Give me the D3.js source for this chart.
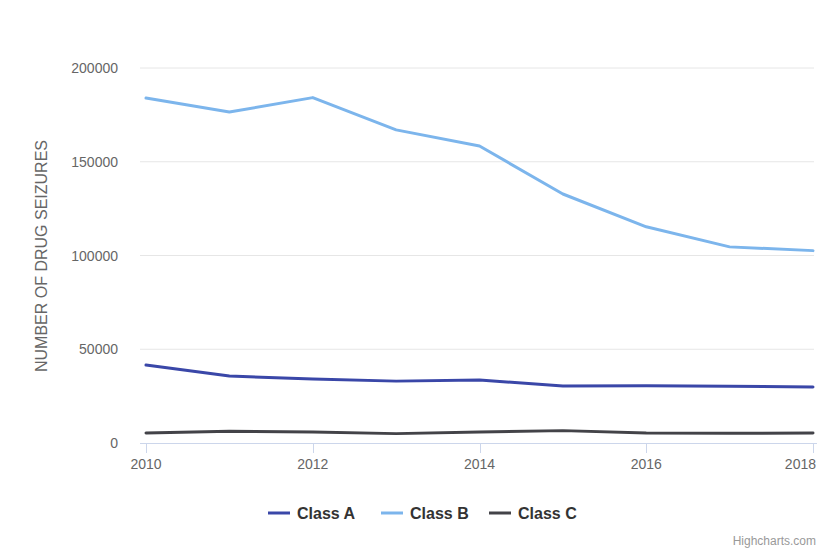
<!DOCTYPE html>
<html lang="en">
<head>
  <meta charset="UTF-8" />
  <title>Drug seizures by class</title>
  <style>
    body { margin: 0; background: #fff; font-family: "Liberation Sans", Arial, sans-serif; }
    svg { display: block; }
  </style>
  <script src="https://d3js.org/d3.v7.min.js"></script>
</head>
<body>
  <svg id="chart" width="818" height="549"></svg>
  <script>
    // ---------- data ----------
    const years = [2010, 2011, 2012, 2013, 2014, 2015, 2016, 2017, 2018];
    const classA = [41600, 35700, 34100, 33000, 33600, 30400, 30500, 30300, 29900];
    const classB = [184000, 176500, 184200, 167000, 158400, 132800, 115300, 104600, 102600];
    const classC = [5300, 6300, 5900, 5000, 5900, 6600, 5300, 5200, 5300];
    const yTicks = [0, 50000, 100000, 150000, 200000];
    const xTicks = [2010, 2012, 2014, 2016, 2018];

    const series = [
      { name: "Class A", values: classA, color: "#3a47a8" },
      { name: "Class B", values: classB, color: "#7cb5ec" },
      { name: "Class C", values: classC, color: "#434348" }
    ];

    const svg = d3.select("#chart");
    const margin = { top: 68, left: 140, right: 4, bottom: 106 };
    const width = 818, height = 549;

    const x = d3.scaleLinear().domain([2010, 2018]).range([146, 813]);
    const y = d3.scaleLinear().domain([0, 200000]).range([443, 68]);

    // grid lines
    svg.append("g")
      .selectAll("line")
      .data(yTicks.filter(d => d > 0))
      .enter().append("line")
      .attr("x1", margin.left).attr("x2", width - margin.right)
      .attr("y1", d => y(d)).attr("y2", d => y(d))
      .attr("stroke", "#e6e6e6").attr("stroke-width", 1);

    // y labels
    svg.append("g")
      .selectAll("text")
      .data(yTicks)
      .enter().append("text")
      .attr("x", 118).attr("y", d => y(d) + 5)
      .attr("text-anchor", "end")
      .attr("fill", "#666").attr("font-size", 14)
      .text(d => d);

    // y axis title
    svg.append("text")
      .attr("transform", "translate(47,256) rotate(-90)")
      .attr("text-anchor", "middle")
      .attr("fill", "#666").attr("font-size", 16)
      .text("NUMBER OF DRUG SEIZURES");

    // x axis
    const xAxis = svg.append("g");
    xAxis.append("line")
      .attr("x1", margin.left).attr("x2", width - 1)
      .attr("y1", 443.5).attr("y2", 443.5)
      .attr("stroke", "#ccd6eb");
    xAxis.selectAll("line.tick")
      .data(xTicks)
      .enter().append("line")
      .attr("class", "tick")
      .attr("x1", d => Math.round(x(d)) + 0.5).attr("x2", d => Math.round(x(d)) + 0.5)
      .attr("y1", 443).attr("y2", 453)
      .attr("stroke", "#ccd6eb");
    // last label is pulled inside the edge, like Highcharts does
    xAxis.selectAll("text")
      .data(xTicks)
      .enter().append("text")
      .attr("x", (d, i) => i === xTicks.length - 1 ? width - 2 : x(d))
      .attr("y", 469)
      .attr("text-anchor", (d, i) => i === xTicks.length - 1 ? "end" : "middle")
      .attr("fill", "#666").attr("font-size", 14)
      .text(d => d);

    // lines
    const line = d3.line()
      .x((d, i) => x(years[i]))
      .y(d => y(d));

    svg.append("g")
      .selectAll("path")
      .data(series)
      .enter().append("path")
      .attr("d", d => line(d.values))
      .attr("fill", "none")
      .attr("stroke", d => d.color)
      .attr("stroke-width", 3)
      .attr("stroke-linejoin", "round")
      .attr("stroke-linecap", "round");

    // legend
    const legendX = [268, 381, 489];
    const legend = svg.append("g")
      .selectAll("g")
      .data(series)
      .enter().append("g")
      .attr("transform", (d, i) => `translate(${legendX[i]},513)`);
    legend.append("line")
      .attr("x1", 0).attr("x2", 22)
      .attr("stroke", d => d.color).attr("stroke-width", 3);
    legend.append("text")
      .attr("x", 29).attr("y", 6)
      .attr("fill", "#333").attr("font-size", 16).attr("font-weight", "bold")
      .text(d => d.name);

    // credits
    svg.append("text")
      .attr("x", 816).attr("y", 545)
      .attr("text-anchor", "end")
      .attr("fill", "#999").attr("font-size", 12)
      .text("Highcharts.com");
  </script>
</body>
</html>
